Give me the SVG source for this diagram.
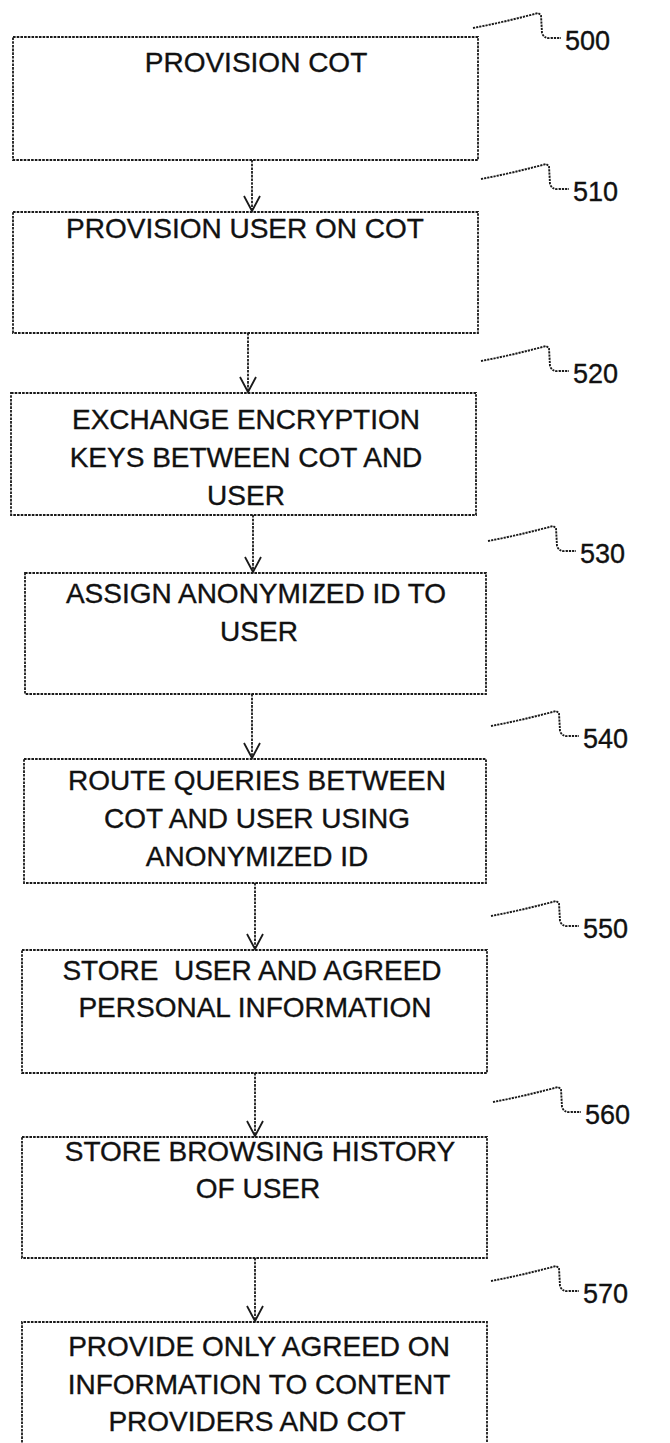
<svg xmlns="http://www.w3.org/2000/svg" xmlns:xlink="http://www.w3.org/1999/xlink" width="670" height="1443" viewBox="0 0 670 1443">
<style>
.box{fill:none;stroke:#1a1a1a;stroke-width:1.8;stroke-dasharray:2.6 1.1}
.conn{fill:none;stroke:#1a1a1a;stroke-width:1.8;stroke-dasharray:2.6 1.1}
.lead{fill:none;stroke:#1a1a1a;stroke-width:1.9;stroke-dasharray:2.2 1}
.t{font-family:"Liberation Sans",Arial,sans-serif;font-size:28px;fill:#111;stroke:#111;stroke-width:0.35;text-anchor:middle}
.n{font-family:"Liberation Sans",Arial,sans-serif;font-size:27px;fill:#111;stroke:#111;stroke-width:0.35}
</style>
<defs>
<marker id="v" markerUnits="userSpaceOnUse" markerWidth="24" markerHeight="24" refX="20" refY="12" orient="auto" viewBox="0 0 24 24">
<path d="M5,4 L20,12 L5,20" fill="none" stroke="#1a1a1a" stroke-width="1.8"/>
</marker>
<path id="lead" class="lead" d="M-92,-22 Q-60,-28 -27,-37 L-24,-35 L-23,-17 Q-21,-11 -14,-12 L-4,-12"/>
</defs>
<rect width="670" height="1443" fill="#fff"/>
<g id="connectors">
<path class="conn" d="M252,160 V211" marker-end="url(#v)"/>
<path class="conn" d="M248,333 V392" marker-end="url(#v)"/>
<path class="conn" d="M253,515 V572" marker-end="url(#v)"/>
<path class="conn" d="M252,694 V758" marker-end="url(#v)"/>
<path class="conn" d="M255,883 V949" marker-end="url(#v)"/>
<path class="conn" d="M255,1073 V1136" marker-end="url(#v)"/>
<path class="conn" d="M255,1258 V1321" marker-end="url(#v)"/>
</g>
<g id="n500">
<rect class="box" x="13" y="37" width="465" height="123"/>
<text class="t" x="256" y="72">PROVISION COT</text>
<use xlink:href="#lead" x="565" y="50"/>
<text class="n" x="565" y="50">500</text>
</g>
<g id="n510">
<rect class="box" x="13" y="212" width="465" height="121"/>
<text class="t" x="245" y="238">PROVISION USER ON COT</text>
<use xlink:href="#lead" x="573" y="201"/>
<text class="n" x="573" y="201">510</text>
</g>
<g id="n520">
<rect class="box" x="11" y="393" width="465" height="122"/>
<text class="t" x="246" y="429">EXCHANGE ENCRYPTION</text>
<text class="t" x="246" y="467">KEYS BETWEEN COT AND</text>
<text class="t" x="246" y="505">USER</text>
<use xlink:href="#lead" x="573" y="383"/>
<text class="n" x="573" y="383">520</text>
</g>
<g id="n530">
<rect class="box" x="25" y="573" width="461" height="121"/>
<text class="t" x="256" y="603">ASSIGN ANONYMIZED ID TO</text>
<text class="t" x="259" y="641">USER</text>
<use xlink:href="#lead" x="580" y="563"/>
<text class="n" x="580" y="563">530</text>
</g>
<g id="n540">
<rect class="box" x="24" y="759" width="462" height="124"/>
<text class="t" x="257" y="790">ROUTE QUERIES BETWEEN</text>
<text class="t" x="257" y="828">COT AND USER USING</text>
<text class="t" x="257" y="866">ANONYMIZED ID</text>
<use xlink:href="#lead" x="583" y="748"/>
<text class="n" x="583" y="748">540</text>
</g>
<g id="n550">
<rect class="box" x="22" y="950" width="465" height="123"/>
<text class="t" x="252" y="980" xml:space="preserve">STORE  USER AND AGREED</text>
<text class="t" x="255" y="1017">PERSONAL INFORMATION</text>
<use xlink:href="#lead" x="583" y="938"/>
<text class="n" x="583" y="938">550</text>
</g>
<g id="n560">
<rect class="box" x="22" y="1137" width="465" height="121"/>
<text class="t" x="260" y="1161">STORE BROWSING HISTORY</text>
<text class="t" x="258" y="1198">OF USER</text>
<use xlink:href="#lead" x="585" y="1124"/>
<text class="n" x="585" y="1124">560</text>
</g>
<g id="n570">
<path class="box" d="M22,1450 V1322 H487 V1450"/>
<text class="t" x="259" y="1356">PROVIDE ONLY AGREED ON</text>
<text class="t" x="259" y="1394">INFORMATION TO CONTENT</text>
<text class="t" x="257" y="1431">PROVIDERS AND COT</text>
<use xlink:href="#lead" x="583" y="1303"/>
<text class="n" x="583" y="1303">570</text>
</g>
</svg>
